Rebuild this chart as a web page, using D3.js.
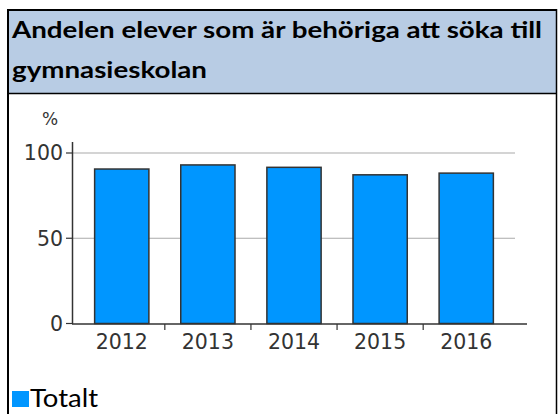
<!DOCTYPE html>
<html>
<head>
<meta charset="utf-8"/>
<script src="https://d3js.org/d3.v7.min.js"></script>
<style>
  body { margin: 0; background: #fff; }
</style>
</head>
<body>
<svg id="chart" width="558" height="414"></svg>
<script>
// data
let titleLines = ["Andelen elever som är behöriga att söka till", "gymnasieskolan"];
let years = ["2012", "2013", "2014", "2015", "2016"];
let totalt = [90.6, 93, 91.6, 87.2, 88.2];
let yTicks = [0, 50, 100];
let seriesName = "Totalt";

let svg = d3.select("#chart");

// header box
svg.append("rect")
    .attr("x", 9).attr("y", 10)
    .attr("width", 547).attr("height", 83)
    .attr("fill", "#b8cce4");
svg.append("line")
    .attr("x1", 8).attr("x2", 557).attr("y1", 10).attr("y2", 10)
    .attr("stroke", "#000").attr("stroke-width", 2);
svg.append("line")
    .attr("x1", 8).attr("x2", 557).attr("y1", 93.5).attr("y2", 93.5)
    .attr("stroke", "#000").attr("stroke-width", 1.5);
// outer borders
svg.append("line")
    .attr("x1", 8).attr("x2", 8).attr("y1", 9).attr("y2", 414)
    .attr("stroke", "#000").attr("stroke-width", 2);
svg.append("line")
    .attr("x1", 556.5).attr("x2", 556.5).attr("y1", 9).attr("y2", 414)
    .attr("stroke", "#000").attr("stroke-width", 1.5);

// title, two lines
let titleY = [38, 78];
let titleW = [530, 195];
titleLines.forEach(function(t, i) {
    svg.append("text")
        .text(t)
        .attr("x", 12)
        .attr("y", titleY[i])
        .attr("textLength", titleW[i])
        .attr("lengthAdjust", "spacingAndGlyphs")
        .style("font-family", "Lato")
        .style("font-weight", "bold")
        .style("font-size", "23px")
        .style("fill", "#000");
});

// scales
let y = d3.scaleLinear().domain([0, 100]).range([323.5, 153]);
let x = d3.scaleBand().domain(years).range([78.7, 509.3])
    .paddingInner(0.37).paddingOuter(0.185);

let axisFont = "DejaVu Sans";
let axisCol = "#333";

// gridlines
svg.append("g").selectAll("line")
    .data(yTicks.filter(d => d > 0))
    .join("line")
    .attr("x1", 73).attr("x2", 515)
    .attr("y1", d => y(d)).attr("y2", d => y(d))
    .attr("stroke", "#aaa").attr("stroke-width", 1.2);

// bars
svg.append("g").selectAll("rect")
    .data(totalt)
    .join("rect")
    .attr("x", (d, i) => x(years[i]))
    .attr("width", x.bandwidth())
    .attr("y", d => y(d))
    .attr("height", d => y(0) - y(d))
    .attr("fill", "#0096ff")
    .attr("stroke", "#333")
    .attr("stroke-width", 1.5);

// y axis
svg.append("line")
    .attr("x1", 72.5).attr("x2", 72.5).attr("y1", 142).attr("y2", 324)
    .attr("stroke", axisCol).attr("stroke-width", 1.5);
svg.append("g").selectAll("line")
    .data(yTicks)
    .join("line")
    .attr("x1", 66).attr("x2", 73)
    .attr("y1", d => y(d)).attr("y2", d => y(d))
    .attr("stroke", axisCol).attr("stroke-width", 1.2);
svg.append("g").selectAll("text")
    .data(yTicks)
    .join("text")
    .text(d => d)
    .attr("x", 63)
    .attr("y", d => y(d))
    .attr("dy", "0.36em")
    .attr("text-anchor", "end")
    .style("font-family", axisFont)
    .style("font-size", "20.5px")
    .style("fill", axisCol);
svg.append("text")
    .text("%")
    .attr("x", 50).attr("y", 125)
    .attr("text-anchor", "middle")
    .style("font-family", axisFont)
    .style("font-size", "17px")
    .style("fill", axisCol);

// x axis
svg.append("line")
    .attr("x1", 72).attr("x2", 527).attr("y1", 324).attr("y2", 324)
    .attr("stroke", axisCol).attr("stroke-width", 1.5);
let step = x.step();
svg.append("g").selectAll("line")
    .data(years.slice(1))
    .join("line")
    .attr("x1", d => x(d) - step * x.paddingInner() / 2)
    .attr("x2", d => x(d) - step * x.paddingInner() / 2)
    .attr("y1", 324).attr("y2", 330)
    .attr("stroke", axisCol).attr("stroke-width", 1.2);
svg.append("g").selectAll("text")
    .data(years)
    .join("text")
    .text(d => d)
    .attr("x", d => x(d) + x.bandwidth() / 2)
    .attr("y", 349)
    .attr("text-anchor", "middle")
    .style("font-family", axisFont)
    .style("font-size", "20.5px")
    .style("fill", axisCol);

// legend
svg.append("rect")
    .attr("x", 12).attr("y", 391)
    .attr("width", 17).attr("height", 16)
    .attr("fill", "#0096ff");
svg.append("text")
    .text(seriesName)
    .attr("x", 30).attr("y", 407)
    .attr("textLength", 68)
    .attr("lengthAdjust", "spacingAndGlyphs")
    .style("font-family", "Lato")
    .style("font-size", "25px")
    .style("fill", "#000");
</script>
</body>
</html>
